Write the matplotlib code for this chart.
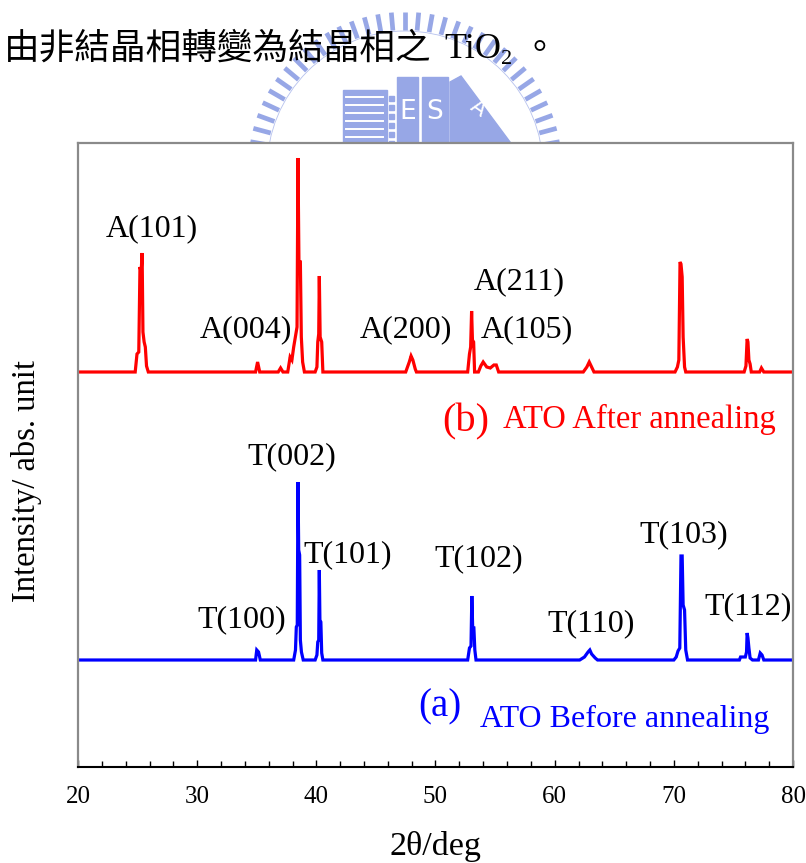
import matplotlib
matplotlib.use("Agg")
import numpy as np
import matplotlib.pyplot as plt
from matplotlib.patches import Polygon, Rectangle, Circle
from matplotlib.ticker import MultipleLocator

W, H, DPI = 806, 863, 100

SERIF = "Liberation Serif"
CJK = "Noto Sans CJK TC"
LOGO = "#97a7e6"

plt.rcParams["font.family"] = [SERIF, "DejaVu Sans"]
plt.rcParams["xtick.labelsize"] = 18

# ---- XRD pattern (b): ATO after annealing (2θ in deg, intensity in a.u.) ----
two_theta_b = [20.0,
               24.8, 24.95, 25.1, 25.2, 25.3, 25.38, 25.45, 25.55, 25.65, 25.75, 25.9,
               34.9, 35.07, 35.25,
               36.8, 37.0, 37.2,
               37.6, 37.8, 37.95, 38.1, 38.38, 38.46, 38.54, 38.66, 38.74, 38.85, 39.0,
               39.9, 40.05, 40.12, 40.2, 40.25, 40.32, 40.45, 40.55,
               47.5, 47.8, 47.95, 48.1, 48.3, 48.4,
               52.7, 52.85, 52.95, 53.03, 53.1, 53.2, 53.28,
               53.6, 53.8, 54.0, 54.3, 54.6, 54.9, 55.1, 55.3,
               62.4, 62.7, 62.9, 63.1, 63.3,
               70.1, 70.3, 70.42, 70.52, 70.6, 70.7, 70.78, 70.9, 71.0,
               75.9, 76.05, 76.15, 76.22, 76.3, 76.4, 76.5,
               77.2, 77.35, 77.55,
               80.0]
intensity_b = [0,
               0, 18, 20, 105, 100, 119, 40, 30, 25, 6, 0,
               0, 10, 0,
               0, 4, 0,
               0, 15, 12, 25, 45, 214, 110, 110, 35, 10, 0,
               0, 5, 30, 38, 96, 35, 30, 0,
               0, 10, 16, 12, 3, 0,
               0, 18, 25, 61, 32, 30, 0,
               0, 6, 10, 5, 4, 7, 7, 0,
               0, 5, 10, 5, 0,
               0, 5, 12, 110, 108, 95, 35, 5, 0,
               0, 6, 33, 30, 12, 8, 0,
               0, 4, 0,
               0]

# ---- XRD pattern (a): ATO before annealing ----
two_theta_a = [20.0,
               34.9, 35.0, 35.15, 35.3,
               38.1, 38.25, 38.32, 38.4, 38.46, 38.52, 38.6, 38.66, 38.75, 38.9,
               39.9, 40.05, 40.12, 40.2, 40.25, 40.3, 40.38, 40.45, 40.55,
               52.7, 52.85, 52.98, 53.05, 53.12, 53.22, 53.3, 53.4,
               62.1, 62.5, 62.8, 62.95, 63.1, 63.4, 63.6,
               70.0, 70.2, 70.35, 70.5, 70.6, 70.7, 70.78, 70.9, 71.0, 71.15,
               75.5, 75.6, 76.0, 76.1, 76.15, 76.22, 76.3, 76.4, 76.6,
               77.1, 77.25, 77.4, 77.55,
               80.0]
intensity_a = [0,
               0, 10, 8, 0,
               0, 10, 33, 35, 178, 110, 105, 20, 8, 0,
               0, 5, 18, 20, 90, 40, 38, 7, 0,
               0, 12, 14, 64, 32, 32, 10, 0,
               0, 3, 8, 10, 6, 2, 0,
               0, 3, 9, 12, 104, 104, 55, 50, 10, 0,
               0, 3, 3, 8, 27, 22, 12, 2, 0,
               0, 7, 5, 0,
               0]

# vertical stacking of the two patterns
offset_b = 395
offset_a = 107

# reflection labels: text, 2θ position, height (baseline of text)
anatase_labels = ["A(101)", "A(004)", "A(200)", "A(211)", "A(105)"]
anatase_x = [26.21, 34.10, 47.52, 57.01, 57.68]
anatase_y = [531, 430, 430, 478, 430]

tin_oxide_labels = ["T(002)", "T(101)", "T(100)", "T(102)", "T(110)", "T(103)", "T(112)"]
tin_oxide_x = [37.96, 42.66, 33.76, 53.65, 63.05, 70.85, 76.22]
tin_oxide_y = [303, 205, 140, 201, 136, 225, 153]

fig = plt.figure(figsize=(W / DPI, H / DPI), dpi=DPI)
fig.patch.set_facecolor("white")

# ---- page layer: heading line and faint emblem behind the chart ----
bg = fig.add_axes([0, 0, 1, 1], zorder=-2)
bg.set_xlim(0, W)
bg.set_ylim(H, 0)
bg.axis("off")

cx, cy, r_in, r_out = 405, 169, 139, 157
for ang in np.arange(0, 181, 5):
    t = np.deg2rad(ang)
    bg.plot([cx + r_in * np.cos(t), cx + r_out * np.cos(t)],
            [cy - r_in * np.sin(t), cy - r_out * np.sin(t)],
            color=LOGO, lw=3.4, solid_capstyle="butt", zorder=1)
bg.add_patch(Circle((cx, cy), r_in - 1, fill=False, ec=LOGO, lw=0.6, alpha=0.7, zorder=1))

bg.add_patch(Rectangle((343, 90), 44, 56, color=LOGO, zorder=1))
for ys in [97, 105, 113, 121, 129, 137]:
    bg.plot([346, 383], [ys, ys], color="white", lw=1.4, zorder=2)
for ys in np.arange(96, 146, 9):
    bg.add_patch(Rectangle((389, ys), 5, 5, color=LOGO, zorder=1))
bg.add_patch(Rectangle((397, 77), 21, 69, color=LOGO, zorder=1))
bg.add_patch(Rectangle((422, 77), 26, 69, color=LOGO, zorder=1))
bg.add_patch(Polygon([(450, 146), (450, 82), (461, 76), (513, 146)], closed=True,
                     color=LOGO, zorder=1))
bg.text(407.5, 112, "E", color="white", fontsize=19, family="DejaVu Sans",
        ha="center", va="center", zorder=2)
bg.text(435, 112, "S", color="white", fontsize=19, family="DejaVu Sans",
        ha="center", va="center", zorder=2)
bg.text(478, 108, "A", color="white", fontsize=15, family="DejaVu Sans",
        ha="center", va="center", rotation=-35, zorder=2)

bg.text(4, 59, "由非結晶相轉變為結晶相之", family=CJK, fontsize=25.7,
        ha="left", va="baseline", zorder=3)
bg.text(444, 58, "TiO", family=SERIF, fontsize=26, ha="left", va="baseline", zorder=3)
bg.text(501, 64, "2", family=SERIF, fontsize=16, ha="left", va="baseline", zorder=3)
bg.text(522, 59, "。", family=CJK, fontsize=25.7, ha="left", va="baseline", zorder=3)

# ---- diffraction chart ----
ax = fig.add_axes([78 / W, 1 - 767 / H, 715 / W, 624 / H])
ax.set_facecolor("white")

ax.plot(two_theta_b, np.array(intensity_b) + offset_b, color="#ff0000", lw=2.3,
        solid_joinstyle="miter")
ax.plot(two_theta_a, np.array(intensity_a) + offset_a, color="#0000ff", lw=2.3,
        solid_joinstyle="miter")

ax.set_xlim(20, 80)
ax.set_ylim(0, 624)
ax.set_xticks(range(20, 81, 10))
ax.xaxis.set_minor_locator(MultipleLocator(2))
ax.set_yticks([])
ax.tick_params(axis="x", which="both", direction="in", color="black", width=1.0,
               labelsize=18, pad=14)
ax.tick_params(axis="x", which="major", length=5)
ax.tick_params(axis="x", which="minor", length=4)

for side in ["top", "left", "right"]:
    ax.spines[side].set_color("#8a8a8a")
    ax.spines[side].set_linewidth(1.6)
ax.spines["bottom"].set_color("black")
ax.spines["bottom"].set_linewidth(1.5)

ax.set_xlabel("2θ/deg", fontsize=24.5)
ax.xaxis.label.set_va("baseline")
ax.xaxis.set_label_coords(0.5, -(855 - 767) / 624)

ax.set_ylabel("Intensity/ abs. unit", fontsize=23.5)
ax.yaxis.label.set_va("center")
ax.yaxis.set_label_coords(-(78 - 27) / 715, (767 - 481) / 624)

for txt, x, y in zip(anatase_labels, anatase_x, anatase_y):
    ax.text(x, y, txt, fontsize=23, ha="center", va="baseline")
for txt, x, y in zip(tin_oxide_labels, tin_oxide_x, tin_oxide_y):
    ax.text(x, y, txt, fontsize=23, ha="center", va="baseline")

ax.text(52.56, 336, "(b)", fontsize=29, color="#ff0000", ha="center", va="baseline")
ax.text(55.66, 339, "ATO After annealing", fontsize=23.5, color="#ff0000",
        ha="left", va="baseline")
ax.text(50.38, 51, "(a)", fontsize=28, color="#0000ff", ha="center", va="baseline")
ax.text(53.73, 40, "ATO Before annealing", fontsize=23, color="#0000ff",
        ha="left", va="baseline")

fig.savefig("out.png", dpi=DPI)
